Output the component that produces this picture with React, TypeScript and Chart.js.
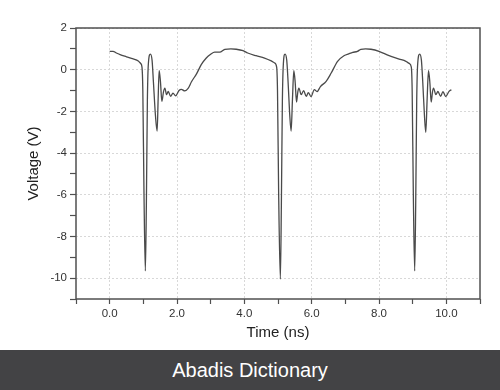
import React, { useEffect, useRef } from 'react';
import { Chart, registerables } from 'chart.js';

Chart.register(...registerables);

// Time (ns)
const timeNs = [
  0.0, 0.1, 0.2, 0.31, 0.5, 0.7, 0.85, 0.92, 0.96, 0.985, 1.02, 1.06, 1.09, 1.12, 1.15, 1.21, 1.26, 1.3, 1.36, 1.41,
  1.44, 1.47, 1.51, 1.55, 1.6, 1.64, 1.69, 1.74, 1.81, 1.88, 1.96, 2.06, 2.13, 2.23, 2.33, 2.43, 2.58, 2.72, 2.87, 3.0,
  3.12, 3.27, 3.42, 3.6, 3.76, 3.96, 4.1, 4.35, 4.6, 4.8, 4.9, 4.96,
  4.985, 5.02, 5.07, 5.1, 5.13, 5.16, 5.21, 5.26, 5.3, 5.35, 5.39, 5.43, 5.47, 5.51, 5.55, 5.59, 5.62, 5.69,
  5.76, 5.84, 5.9, 5.98, 6.08, 6.16, 6.26, 6.43, 6.58, 6.77, 6.97, 7.1, 7.22, 7.36, 7.46, 7.6, 7.76, 8.0, 8.3, 8.6,
  8.8, 8.9, 8.96,
  8.985, 9.02, 9.06, 9.09, 9.12, 9.15, 9.21, 9.26, 9.3, 9.35, 9.39, 9.43, 9.47, 9.51, 9.55, 9.59, 9.62, 9.69, 9.75, 9.83,
  9.9, 9.98, 10.08, 10.15,
];

// Voltage (V)
const voltageV = [
  0.88, 0.88, 0.8, 0.72, 0.62, 0.52, 0.42, 0.3, 0.12, -1.0, -6.0, -9.65, -6.5, -1.5, 0.3, 0.75, 0.45, -0.6, -2.2, -2.95,
  -1.4, -0.05, -0.6, -1.52, -1.05, -0.88, -1.2, -1.04, -1.28, -1.12, -1.26, -1.0, -0.94, -1.02, -0.9, -0.58, -0.2, 0.24, 0.56, 0.74,
  0.84, 0.84, 0.98, 1.0, 0.98, 0.91, 0.8, 0.67, 0.56, 0.42, 0.32, 0.12,
  -1.0, -6.0, -10.05, -6.5, -1.5, 0.3, 0.75, 0.45, -0.6, -2.2, -2.95, -1.4, -0.05, -0.6, -1.55, -1.05, -0.88, -1.2,
  -1.0, -1.28, -1.1, -1.29, -0.96, -1.05, -0.81, -0.56, -0.16, 0.4, 0.68, 0.76, 0.83, 0.88, 0.98, 1.0, 0.98, 0.88, 0.67, 0.51,
  0.4, 0.3, 0.12,
  -1.0, -6.0, -9.65, -6.5, -1.5, 0.3, 0.75, 0.45, -0.6, -2.2, -3.0, -1.4, -0.05, -0.6, -1.55, -1.05, -0.88, -1.2, -1.04, -1.28,
  -1.05, -1.29, -1.04, -0.96,
];

const xMajorTicks = [0, 2, 4, 6, 8, 10];
const yMajorTicks = [2, 0, -2, -4, -6, -8, -10];

const FONT = '"Liberation Sans", Arial, sans-serif';

const framePlugin = {
  id: 'frame',
  afterDraw(chart: any) {
    const { ctx, chartArea } = chart;
    const { left, top, right, bottom } = chartArea;
    ctx.save();
    ctx.strokeStyle = '#505050';
    ctx.lineWidth = 1.5;
    ctx.strokeRect(left, top, right - left, bottom - top);
    ctx.restore();
  },
};

export default function App() {
  const canvasRef = useRef<HTMLCanvasElement | null>(null);

  useEffect(() => {
    if (!canvasRef.current) return;
    const points = timeNs.map((t, i) => ({ x: t, y: voltageV[i] }));
    const chart = new Chart(canvasRef.current, {
      type: 'line',
      data: {
        datasets: [
          {
            data: points,
            borderColor: '#4a4a4a',
            borderWidth: 1.3,
            pointRadius: 0,
            fill: false,
            cubicInterpolationMode: 'monotone',
          },
        ],
      },
      options: {
        animation: false,
        responsive: true,
        maintainAspectRatio: false,
        layout: { padding: { left: 0, right: 20, top: 28, bottom: 0 } },
        plugins: { legend: { display: false }, tooltip: { enabled: false } },
        scales: {
          x: {
            type: 'linear',
            min: -1,
            max: 11,
            afterFit: (s: any) => {
              s.height = 51;
            },
            border: { display: false, dash: [2, 2] },
            grid: {
              color: (c: any) => (xMajorTicks.includes(c.tick?.value) ? '#d8d8d8' : 'rgba(0,0,0,0)'),
              lineWidth: 1,
              tickColor: '#505050',
              tickLength: 5,
              tickWidth: 1.2,
            },
            ticks: {
              stepSize: 1,
              autoSkip: false,
              maxRotation: 0,
              padding: 3,
              color: '#333',
              font: { family: FONT, size: 11.5 },
              callback: (v: any) => (xMajorTicks.includes(Number(v)) ? Number(v).toFixed(1) : ''),
            },
            title: {
              display: true,
              text: 'Time (ns)',
              color: '#222',
              font: { family: FONT, size: 15 },
              padding: { top: 4, bottom: 8 },
            },
          },
          y: {
            type: 'linear',
            min: -11,
            max: 2,
            afterFit: (s: any) => {
              s.width = 76;
            },
            border: { display: false, dash: [2, 2] },
            grid: {
              color: (c: any) => (yMajorTicks.includes(c.tick?.value) ? '#d8d8d8' : 'rgba(0,0,0,0)'),
              lineWidth: 1,
              tickColor: '#505050',
              tickLength: 6,
              tickWidth: 1.2,
            },
            ticks: {
              stepSize: 1,
              autoSkip: false,
              padding: 3,
              color: '#333',
              font: { family: FONT, size: 11.5 },
              callback: (v: any) => (yMajorTicks.includes(Number(v)) ? String(v) : ''),
            },
            title: {
              display: true,
              text: 'Voltage (V)',
              color: '#222',
              font: { family: FONT, size: 15 },
              padding: { top: 25, bottom: 4 },
            },
          },
        },
      },
      plugins: [framePlugin],
    });
    return () => chart.destroy();
  }, []);

  return (
    <div style={{ position: 'fixed', left: 0, top: 0, width: 500, height: 390, background: '#fff' }}>
      <div style={{ position: 'relative', width: 500, height: 350 }}>
        <canvas ref={canvasRef} />
      </div>
      <div
        style={{
          width: 500,
          height: 40,
          background: '#434345',
          color: '#fff',
          fontFamily: FONT,
          fontSize: 20,
          lineHeight: '40px',
          textAlign: 'center',
        }}
      >
        Abadis Dictionary
      </div>
    </div>
  );
}
